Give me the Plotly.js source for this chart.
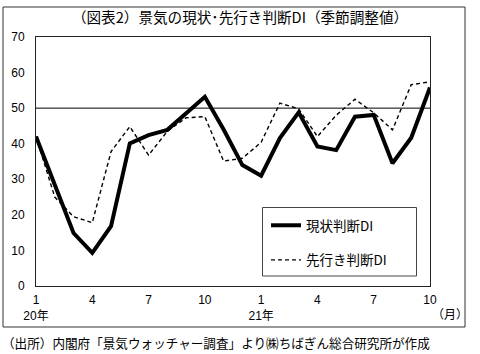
<!DOCTYPE html>
<html>
<head>
<meta charset="utf-8">
<script src="https://cdn.plot.ly/plotly-3.0.1.min.js"></script>
<style>body{margin:0;padding:0;background:#fff;} #chart{width:480px;height:354px;}</style>
</head>
<body>
<div id="chart"></div>
<script>
const months = ['20/1','20/2','20/3','20/4','20/5','20/6','20/7','20/8','20/9','20/10','20/11','20/12',
                '21/1','21/2','21/3','21/4','21/5','21/6','21/7','21/8','21/9','21/10'];
const genjoDI = [42.0, 28.4, 14.9, 9.3, 16.8, 40.1, 42.4, 43.9, 48.5, 53.2, 44.0, 34.0,
                 31.0, 41.6, 48.8, 39.2, 38.2, 47.6, 48.1, 34.5, 41.7, 55.8];
const sakiyukiDI = [42.0, 25.0, 19.5, 17.8, 37.8, 44.8, 36.8, 43.5, 47.3, 47.6, 35.1, 35.9,
                    40.4, 51.4, 49.8, 42.0, 48.0, 52.5, 48.7, 43.9, 56.6, 57.4];
const tickMonths = ['20/1','20/4','20/7','20/10','21/1','21/4','21/7','21/10'];
const tickLabels = ['1<br>20年','4','7','10','1<br>21年','4','7','10'];
const seriesNames = ['現状判断DI','先行き判断DI'];

const FONT = 'Liberation Sans, Arial, "Noto Sans CJK JP", sans-serif';
const JP = '"Noto Sans CJK JP", sans-serif';

const traces = [
  {x: months, y: genjoDI, name: seriesNames[0], type: 'scatter', mode: 'lines',
   line: {color: '#000', width: 4}, legendgroup: 'a'},
  {x: months, y: sakiyukiDI, name: seriesNames[1], type: 'scatter', mode: 'lines',
   line: {color: '#000', width: 1.4, dash: '4px,3px'}, legendgroup: 'b'}
];

const L = 36, T = 37, W = 394, H = 249;
const px = v => (v - L) / W;
const py = v => (T + H - v) / H;

const layout = {
  width: 480, height: 354,
  margin: {l: 36, r: 50, t: 37, b: 68},
  paper_bgcolor: '#fff', plot_bgcolor: '#fff',
  font: {family: FONT, size: 12, color: '#000'},
  title: {text: '（図表2）景気の現状･先行き判断DI（季節調整値）',
          font: {family: JP, size: 14.6, color: '#000'},
          x: 0.5, xref: 'container', xanchor: 'center',
          y: 1 - 18/354, yref: 'container', yanchor: 'middle'},
  xaxis: {type: 'category', categoryorder: 'array', categoryarray: months,
          range: [0, 21], tickmode: 'array', tickvals: tickMonths, ticktext: tickLabels,
          showgrid: false, zeroline: false, showline: true, mirror: true,
          linecolor: '#222', linewidth: 1, ticks: '', ticklabelstandoff: 3,
          tickfont: {family: FONT, size: 12, color: '#000'}, fixedrange: true},
  yaxis: {range: [0, 70], dtick: 10, tick0: 0, showgrid: false, zeroline: false,
          showline: true, mirror: true, linecolor: '#222', linewidth: 1, ticks: '',
          ticklabelstandoff: 8, tickfont: {family: FONT, size: 12, color: '#000'}, fixedrange: true},
  showlegend: true,
  legend: {x: px(266), y: py(210), xanchor: 'left', yanchor: 'top',
           bgcolor: 'rgba(0,0,0,0)', borderwidth: 0,
           font: {family: JP, size: 13.5, color: '#000'},
           traceorder: 'grouped', tracegroupgap: 14, itemwidth: 30},
  shapes: [
    {type: 'line', xref: 'paper', x0: 0, x1: 1, yref: 'y', y0: 50, y1: 50,
     line: {color: '#000', width: 1}},
    {type: 'rect', xref: 'paper', yref: 'paper',
     x0: px(3), x1: px(465), y0: py(327), y1: py(7),
     line: {color: '#333', width: 1}, fillcolor: 'rgba(0,0,0,0)', layer: 'below'},
    {type: 'rect', xref: 'paper', yref: 'paper',
     x0: px(262.5), x1: px(416.5), y0: py(276), y1: py(207.5),
     line: {color: '#444', width: 1}, fillcolor: '#fff', layer: 'above'}
  ],
  annotations: [
    {text: '（月）', xref: 'paper', yref: 'paper', x: px(450), y: py(313),
     xanchor: 'center', yanchor: 'middle', showarrow: false,
     font: {family: JP, size: 12, color: '#000'}},
    {text: '（出所）内閣府「景気ウォッチャー調査」より㈱ちばぎん総合研究所が作成',
     xref: 'paper', yref: 'paper', x: px(0), y: py(342),
     xanchor: 'left', yanchor: 'middle', showarrow: false,
     font: {family: JP, size: 12.6, color: '#000'}}
  ]
};

Plotly.newPlot('chart', traces, layout, {displayModeBar: false, staticPlot: true});
</script>
</body>
</html>
